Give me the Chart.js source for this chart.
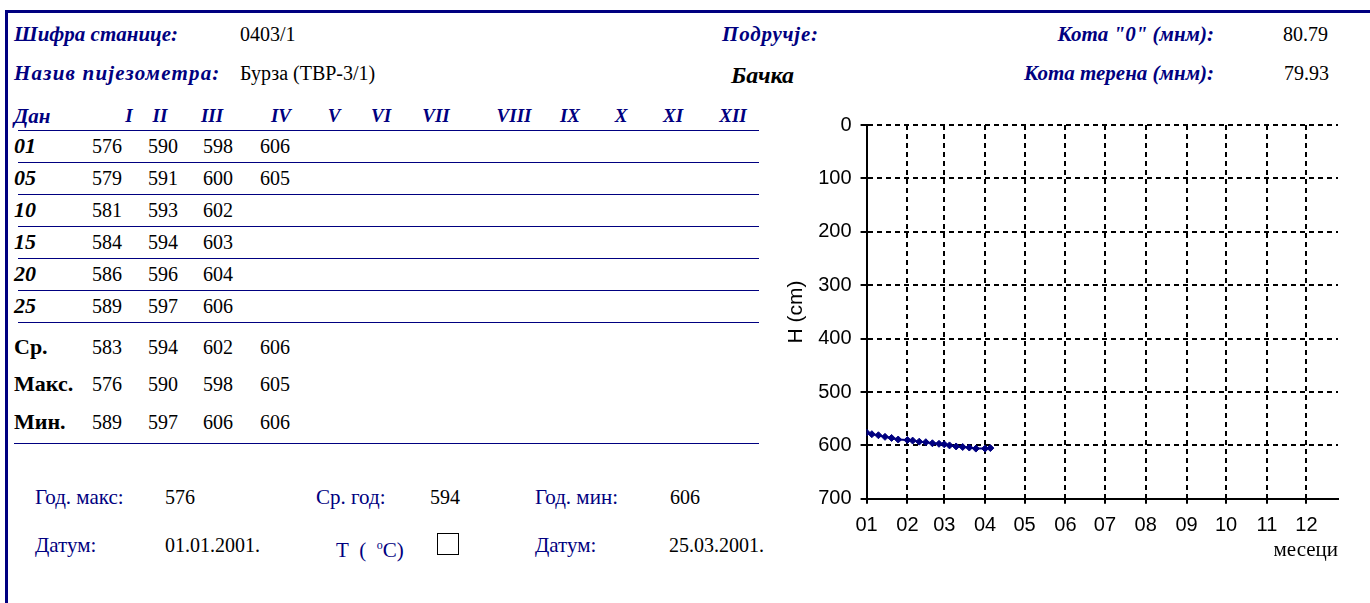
<!DOCTYPE html>
<html>
<head>
<meta charset="utf-8">
<script src="https://cdn.jsdelivr.net/npm/chart.js@4.4.0/dist/chart.umd.min.js"></script>
<style>
  body { margin: 0; background: #fff; }
  #page { position: relative; width: 1370px; height: 603px; overflow: hidden; }
  #frame { position: absolute; left: 5px; top: 10px; width: 1400px; height: 700px;
           border-top: 3px solid #000080; border-left: 3px solid #000080; }
  .t { position: absolute; white-space: nowrap; line-height: 24px; height: 24px;
       font-family: "Liberation Serif", "Times New Roman", serif; font-size: 20px; color: #000; }
  .lab { color: #000080; font-weight: bold; font-style: italic; font-size: 21px; }
  .rom { color: #000080; font-weight: bold; font-style: italic; font-size: 19px; }
  .day { font-weight: bold; font-style: italic; font-size: 22px; }
  .stat { font-weight: bold; font-size: 22px; }
  .foot { color: #000080; font-size: 21px; }
  .rule { position: absolute; height: 0; border-top: 1.5px solid #000080; }
  #box { position: absolute; left: 437px; top: 533px; width: 20px; height: 20px; border: 1px solid #000; }
  #wrap { position: absolute; left: 768px; top: 100px; width: 592px; height: 463px; }
</style>
</head>
<body>
<div id="page">
  <div id="frame"></div>
  <div id="box"></div>
  <div id="wrap"><canvas id="chart"></canvas></div>
</div>
<script>
// month labels on the chart, roman month names in the table, day rows
let months = ["01", "02", "03", "04", "05", "06", "07", "08", "09", "10", "11", "12"];
let monthStart = [0, 31, 59, 90, 120, 151, 181, 212, 243, 273, 304, 334];
let romans = ["I", "II", "III", "IV", "V", "VI", "VII", "VIII", "IX", "X", "XI", "XII"];
let days = ["01", "05", "10", "15", "20", "25"];

// water level H (cm) per month, one value for each day row
let janH = [576, 579, 581, 584, 586, 589];
let febH = [590, 591, 593, 594, 596, 597];
let marH = [598, 600, 602, 603, 604, 606];
let aprH = [606, 605];

let avgH = [583, 594, 602, 606];
let maxH = [576, 590, 598, 605];
let minH = [589, 597, 606, 606];

let yTicks = [0, 100, 200, 300, 400, 500, 600, 700];

// layout of the sheet
const romanX = [129, 160, 212, 281, 334, 381, 436, 514, 570, 621, 673, 733];
const numX = [107, 163, 218, 275];
const rowY = [146, 178, 210, 242, 274, 306];
const ruleY = [130, 162, 194, 226, 258, 290, 322];
const statY = [347, 384, 422];

const page = document.getElementById("page");

function put(text, x, y, cls, align) {
  const d = document.createElement("div");
  d.className = "t " + (cls || "");
  d.textContent = text;
  d.style.top = (y - 12) + "px";
  if (align === "right") {
    d.style.right = (1370 - x) + "px";
  } else if (align === "center") {
    d.style.left = x + "px";
    d.style.transform = "translateX(-50%)";
  } else {
    d.style.left = x + "px";
  }
  page.appendChild(d);
  return d;
}

function rule(x1, x2, y) {
  const r = document.createElement("div");
  r.className = "rule";
  r.style.left = x1 + "px";
  r.style.width = (x2 - x1) + "px";
  r.style.top = y + "px";
  page.appendChild(r);
}

// header
put("Шифра станице:", 14, 34, "lab");
put("0403/1", 240, 34);
put("Подручје:", 722, 34, "lab").style.letterSpacing = "0.8px";
put("Кота \"0\" (мнм):", 1214, 34, "lab", "right");
put("80.79", 1283, 34);
put("Назив пијезометра:", 14, 73, "lab").style.letterSpacing = "1.2px";
put("Бурза (ТВР-3/1)", 240, 73);
put("Бачка", 731, 75, "day").style.fontSize = "24px";
put("Кота терена (мнм):", 1214, 73, "lab", "right");
put("79.93", 1284, 73);

// table
put("Дан", 14, 116, "lab");
romans.forEach((r, i) => put(r, romanX[i], 116, "rom", "center"));
ruleY.forEach((y) => rule(18, 759, y));
let monthCols = [janH, febH, marH, aprH];
days.forEach((d, r) => {
  put(d, 14, rowY[r], "day");
  monthCols.forEach((col, c) => {
    if (col[r] !== undefined) put(String(col[r]), numX[c], rowY[r], "", "center");
  });
});
[["Ср.", avgH], ["Макс.", maxH], ["Мин.", minH]].forEach((s, r) => {
  put(s[0], 14, statY[r], "stat");
  s[1].forEach((v, c) => put(String(v), numX[c], statY[r], "", "center"));
});
rule(14, 759, 443);

// footer
put("Год. макс:", 35, 497, "foot");
put("576", 165, 497);
put("Ср. год:", 316, 497, "foot");
put("594", 430, 497);
put("Год. мин:", 535, 497, "foot");
put("606", 670, 497);
put("Датум:", 35, 545, "foot");
put("01.01.2001.", 165, 545);
put("T ( C)", 336, 545, "foot").innerHTML = "T&nbsp;&nbsp;(&nbsp;&nbsp;<sup style=\"font-size:12px\">o</sup>C)";
put("Датум:", 535, 545, "foot");
put("25.03.2001.", 669, 545);

// chart points: day of year vs level
let points = [];
monthCols.forEach((col, m) => {
  col.forEach((h, i) => {
    points.push({ x: monthStart[m] + parseInt(days[i]) - 1, y: h });
  });
});

const config = {
  type: "line",
  data: {
    datasets: [
      {
        data: points,
        borderColor: "#000080",
        backgroundColor: "#000080",
        borderWidth: 2,
        pointStyle: "rectRot",
        pointRadius: 3.5,
        pointBorderWidth: 1,
        tension: 0,
      },
    ],
  },
  options: {
    responsive: true,
    maintainAspectRatio: false,
    animation: false,
    layout: { padding: { left: 0, top: 25, right: 22, bottom: 0 } },
    plugins: { legend: { display: false }, tooltip: { enabled: false } },
    scales: {
      x: {
        type: "linear",
        min: 0,
        max: 358,
        afterBuildTicks: (axis) => {
          axis.ticks = monthStart.map((v) => ({ value: v }));
        },
        ticks: {
          callback: (v, i) => months[i],
          color: "#000",
          font: { family: "Liberation Sans", size: 20 },
          padding: 10,
          maxRotation: 0,
          autoSkip: false,
        },
        grid: { color: "#000", lineWidth: 2, tickLength: 5, tickColor: "#000", tickWidth: 2, tickBorderDash: [] },
        border: { display: true, color: "#000", width: 2, dash: [5, 4] },
        title: {
          display: true,
          text: "месеци",
          align: "end",
          color: "#000",
          font: { family: "Liberation Serif", size: 21 },
          padding: { top: -10, bottom: 0 },
        },
      },
      y: {
        reverse: true,
        min: 0,
        max: 700,
        afterBuildTicks: (axis) => {
          axis.ticks = yTicks.map((v) => ({ value: v }));
        },
        ticks: {
          color: "#000",
          font: { family: "Liberation Sans", size: 20 },
          padding: 9,
        },
        grid: { color: "#000", lineWidth: 2, tickLength: 6, tickColor: "#000", tickWidth: 2, tickBorderDash: [] },
        border: { display: true, color: "#000", width: 2, dash: [5, 4] },
        title: {
          display: true,
          text: "H (cm)",
          color: "#000",
          font: { family: "Liberation Sans", size: 21 },
          padding: { top: 16, bottom: 0 },
        },
      },
    },
  },
};

new Chart(document.getElementById("chart"), config);
</script>
</body>
</html>
